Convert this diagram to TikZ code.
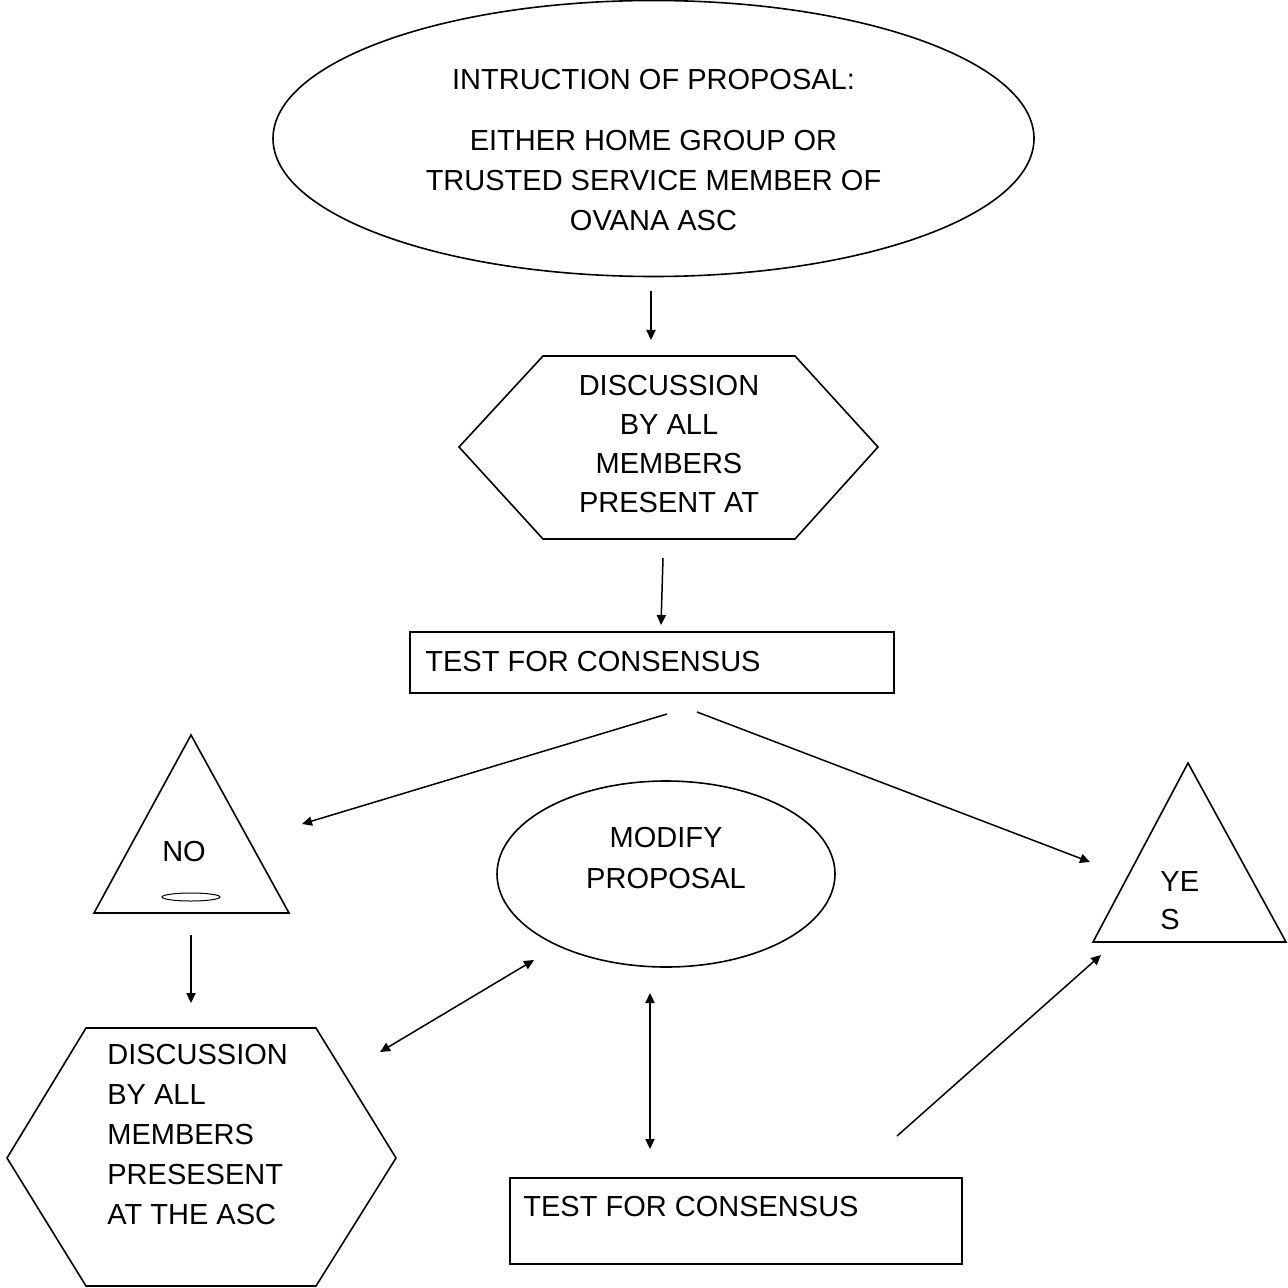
\documentclass[tikz,border=0pt]{standalone}
\usepackage{fontspec}
\setmainfont{Liberation Sans}
\usetikzlibrary{arrows.meta,shapes.geometric}
\begin{document}
\begin{tikzpicture}[x=0.5pt,y=-0.5pt,
  shapeline/.style={draw=black,line width=0.8pt,line join=miter},
  lbl/.style={font=\fontsize{14.5pt}{20pt}\selectfont,inner sep=0pt,text=black},
  conn/.style={draw=black,line width=0.75pt,-{Triangle[length=5pt,width=4.6pt]}},
  dconn/.style={draw=black,line width=0.75pt,{Triangle[length=5pt,width=4.6pt]}-{Triangle[length=5pt,width=4.6pt]}}]
\useasboundingbox[fill=white] (0,0) rectangle (1287,1288);

% shapes
\draw[shapeline] (653.5,138.5) ellipse [x radius=380.5, y radius=138];
\draw[shapeline] (459,447) -- (543,356) -- (795,356) -- (878,447) -- (795,539) -- (543,539) -- cycle;
\draw[shapeline] (410,632) rectangle (894,693);
\draw[shapeline] (191,735) -- (289,913) -- (94,913) -- cycle;
\draw[draw=black,line width=0.5pt] (191,897) ellipse [x radius=29, y radius=4];
\draw[shapeline] (666,874) ellipse [x radius=169, y radius=93];
\draw[shapeline] (1188,763) -- (1286,942) -- (1093,942) -- cycle;
\draw[shapeline] (7,1158) -- (86,1028) -- (316,1028) -- (396,1158) -- (316,1286) -- (86,1286) -- cycle;
\draw[shapeline] (510,1178) rectangle (962,1264);

% texts
\node[lbl,align=center] (intro) at (653.5,150) {INTRUCTION OF PROPOSAL:\\[10.5pt]EITHER HOME GROUP OR\\TRUSTED SERVICE MEMBER OF\\OVANA ASC};
\node[lbl,align=center,font=\fontsize{14.5pt}{19.5pt}\selectfont] (disc1) at (669,444.5) {DISCUSSION\\BY ALL\\MEMBERS\\PRESENT AT};
\node[lbl,anchor=west] (test1) at (425,662) {TEST FOR CONSENSUS};
\node[lbl] (no) at (184,852) {NO};
\node[lbl,align=center,font=\fontsize{14.5pt}{20.5pt}\selectfont] (modify) at (666,858.5) {MODIFY\\PROPOSAL};
\node[lbl,anchor=west,align=left,font=\fontsize{14.5pt}{19pt}\selectfont] (yes) at (1160,900.5) {YE\\S};
\node[lbl,anchor=west,align=left] (disc2) at (107,1135) {DISCUSSION\\BY ALL\\MEMBERS\\PRESESENT\\AT THE ASC};
\node[lbl,anchor=west] (test2) at (523,1207) {TEST FOR CONSENSUS};

% connector end points
\coordinate (a1s) at (651,291);
\coordinate (a1e) at (651,340);
\coordinate (a2s) at (663,558);
\coordinate (a2e) at (661,625);
\coordinate (a3s) at (667,714);
\coordinate (a3e) at (302,824);
\coordinate (a4s) at (697,712);
\coordinate (a4e) at (1090,862);
\coordinate (a5s) at (191,935);
\coordinate (a5e) at (191,1003);
\coordinate (a6s) at (380,1052);
\coordinate (a6e) at (534,960);
\coordinate (a7s) at (650,993);
\coordinate (a7e) at (650,1149);
\coordinate (a8s) at (897,1136);
\coordinate (a8e) at (1101,955);

\draw[conn] (a1s) -- (a1e);
\draw[conn] (a2s) -- (a2e);
\draw[conn] (a3s) -- (a3e);
\draw[conn] (a4s) -- (a4e);
\draw[conn] (a5s) -- (a5e);
\draw[dconn] (a6s) -- (a6e);
\draw[dconn] (a7s) -- (a7e);
\draw[conn] (a8s) -- (a8e);
\end{tikzpicture}
\end{document}
